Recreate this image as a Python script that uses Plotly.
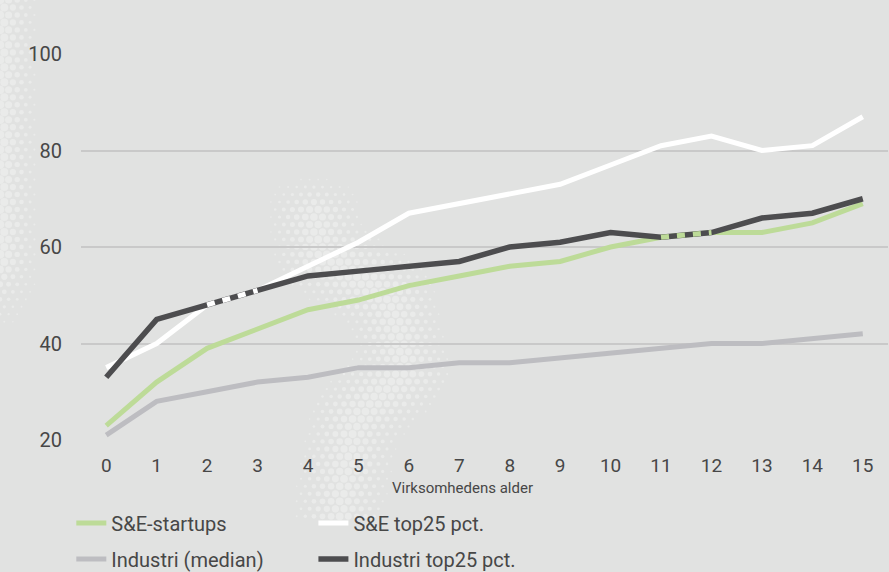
import base64, math
import plotly.graph_objects as go

#$ Data
alder = list(range(16))
se_startups = [23, 32, 39, 43, 47, 49, 52, 54, 56, 57, 60, 62, 63, 63, 65, 69]
se_top25 = [35, 40, 48, 51, 56, 61, 67, 69, 71, 73, 77, 81, 83, 80, 81, 87]
ind_median = [21, 28, 30, 32, 33, 35, 35, 36, 36, 37, 38, 39, 40, 40, 41, 42]
ind_top25 = [33, 45, 48, 51, 54, 55, 56, 57, 60, 61, 63, 62, 63, 66, 67, 70]

GREEN = '#bddb98'
WHITE = '#ffffff'
LGREY = '#bdbdc1'
DGREY = '#4d4d4f'
TXT = '#474747'
BG = '#e1e2e1'

#@ Decorative halftone dots in the background (svg as a layout image)
def seg_dist(px, py, ax, ay, bx, by):
    dx, dy = bx - ax, by - ay
    t = max(0, min(1, ((px - ax) * dx + (py - ay) * dy) / (dx * dx + dy * dy)))
    return math.hypot(px - (ax + t * dx), py - (ay + t * dy))

band = [(313, 185), (318, 250), (390, 300), (405, 370), (355, 420), (340, 500), (340, 572)]
dots = []
step = 8.6
for j in range(70):
    for i in range(110):
        cx = i * step + (step / 2 if j % 2 else 0)
        cy = j * step * 0.87
        r = 0
        if cx < 45 and cy < 340:
            r = 4.4 * (1 - cx / 45) * min(1, (340 - cy) / 80)
        d = min(seg_dist(cx, cy, *band[k], *band[k + 1]) for k in range(len(band) - 1))
        if d < 50 and cy > 170:
            r = max(r, 3.9 * (1 - d / 50) ** 0.7 * min(1, (cy - 170) / 40))
        if r > 0.7:
            dots.append(f'<circle cx="{cx:.1f}" cy="{cy:.1f}" r="{r:.2f}"/>')
svg = ('<svg xmlns="http://www.w3.org/2000/svg" width="889" height="572" viewBox="0 0 889 572">'
       '<g fill="#eaebea">' + ''.join(dots) + '</g></svg>')
bg_img = 'data:image/svg+xml;base64,' + base64.b64encode(svg.encode()).decode()

fig = go.Figure()

#@ Main lines
fig.add_trace(go.Scatter(x=alder, y=se_startups, name='S&E-startups', mode='lines',
                         line=dict(color=GREEN, width=5), legend='legend', legendgroup='a'))
fig.add_trace(go.Scatter(x=alder, y=se_top25, name='S&E top25 pct.', mode='lines',
                         line=dict(color=WHITE, width=5), legend='legend2', legendgroup='b'))
fig.add_trace(go.Scatter(x=alder, y=ind_median, name='Industri (median)', mode='lines',
                         line=dict(color=LGREY, width=5), legend='legend', legendgroup='c'))
fig.add_trace(go.Scatter(x=alder, y=ind_top25, name='Industri top25 pct.', mode='lines',
                         line=dict(color=DGREY, width=5.5), legend='legend2', legendgroup='d'))

#@ Where two lines share a segment, the lower one shows through as dashes
for other, col in [(se_top25, WHITE), (se_startups, GREEN)]:
    for i in range(len(alder) - 1):
        if other[i] == ind_top25[i] and other[i + 1] == ind_top25[i + 1]:
            fig.add_trace(go.Scatter(x=alder[i:i + 2], y=other[i:i + 2], mode='lines',
                                     line=dict(color=col, width=5, dash='8px,8px'),
                                     showlegend=False, hoverinfo='skip'))

#! legends refer to the whole figure height so they do not push the margins
leg = dict(yanchor='top', yref='container', y=1 - 503.5 / 572, orientation='v',
           traceorder='grouped', tracegroupgap=7,
           bgcolor='rgba(0,0,0,0)', font=dict(size=20, color=TXT), itemwidth=30)

fig.update_layout(
    width=889, height=572,
    margin=dict(l=81, r=1, t=54, b=132),
    paper_bgcolor=BG, plot_bgcolor='rgba(0,0,0,0)',
    font=dict(family='Roboto, sans-serif', color=TXT, size=20),
    legend=dict(leg, x=-0.012, xanchor='left'),
    legend2=dict(leg, x=0.288, xanchor='left'),
    images=[dict(source=bg_img, xref='paper', yref='paper', x=-81 / 807, y=1 + 54 / 386,
                 sizex=889 / 807, sizey=572 / 386, xanchor='left', yanchor='top',
                 sizing='stretch', layer='below')],
    xaxis=dict(range=[-0.5, 15.5], tickvals=alder, showgrid=False, zeroline=False,
               ticks='outside', ticklen=8, tickcolor='rgba(0,0,0,0)',
               tickfont=dict(size=19, color=TXT)),
    yaxis=dict(range=[20, 100], tickvals=[20, 40, 60, 80, 100], showgrid=True,
               gridcolor='#c9c9c9', gridwidth=1.5, zeroline=False,
               ticks='outside', ticklen=14, tickcolor='rgba(0,0,0,0)',
               tickfont=dict(size=20, color=TXT)),
    annotations=[dict(text='Virksomhedens alder', x=7.07, xref='x',
                      y=(440 - 488) / 386, yref='paper',
                      xanchor='center', yanchor='middle', showarrow=False,
                      font=dict(size=15, color=TXT))],
)

fig.write_html('out.html', config=dict(displayModeBar=False),
               post_script="document.body.style.margin='0';")
